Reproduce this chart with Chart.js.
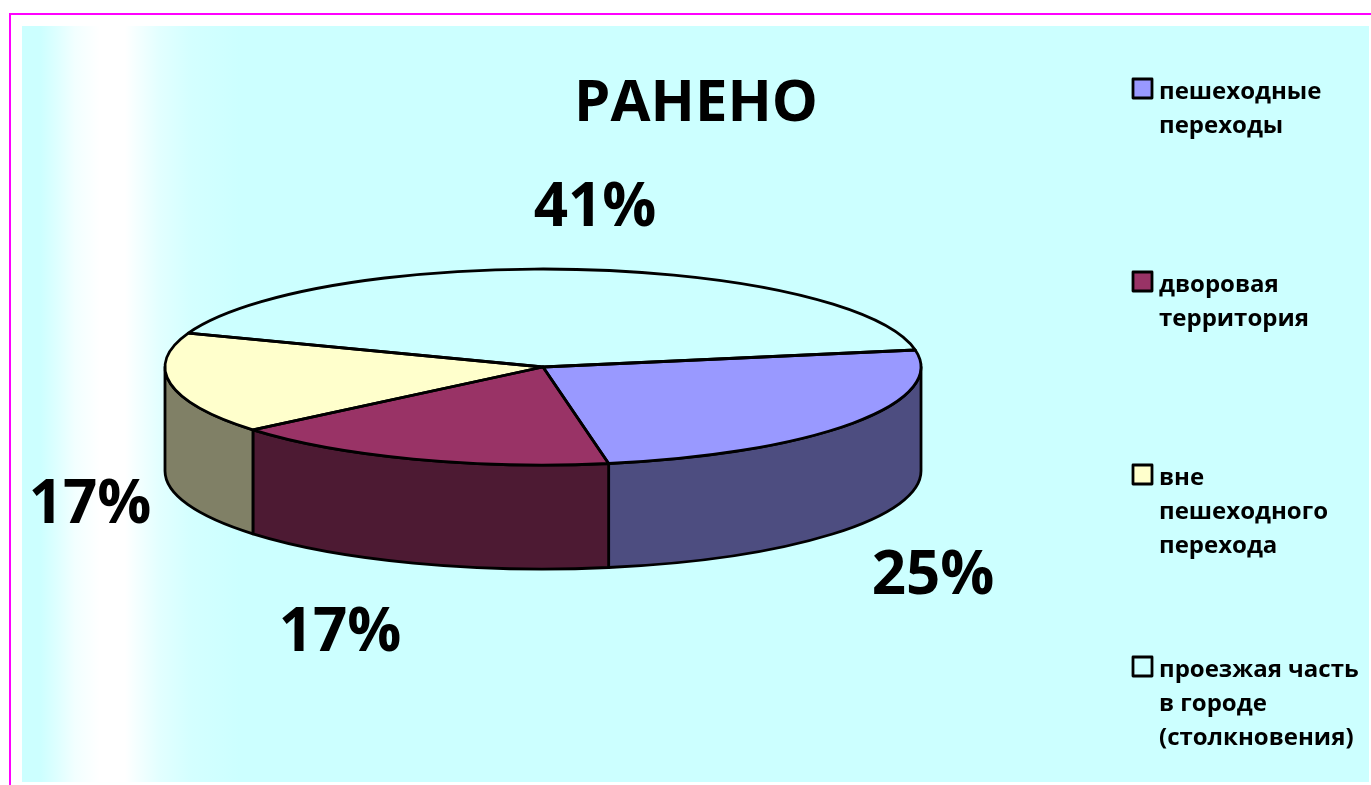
<!DOCTYPE html>
<html>
<head>
<meta charset="utf-8">
<style>html,body{margin:0;padding:0;background:#fff;overflow:hidden}canvas{display:block}</style>
<script src="https://cdn.jsdelivr.net/npm/chart.js@4/dist/chart.umd.min.js"></script>
</head>
<body>
<div style="width:1371px;height:785px"><canvas id="c" width="1371" height="785"></canvas></div>
<script>
const titleText = 'РАНЕНО';
const categories = ['пешеходные переходы', 'дворовая территория', 'вне пешеходного перехода', 'проезжая часть в городе (столкновения)'];
const legendLines = [['пешеходные','переходы'], ['дворовая','территория'], ['вне','пешеходного','перехода'], ['проезжая часть','в городе','(столкновения)']];
const values = [25, 16.7, 16.7, 41.6];
const valueLabels = ['25%', '17%', '17%', '41%'];
const topColors = ['#9999FF', '#993366', '#FFFFCC', '#CCFFFF'];
const wallColors = ['#4D4D80', '#4D1A33', '#808066', '#668080'];

const FONT = '"Open Sans", Lato, sans-serif';
const YSCALE = 98 / 378;
const DEPTH = 104;
const labelPos = [[933, 577], [340, 634], [90, 506], [595, 209]];
const legendY = [92, 285, 478, 670];

function arcs(chart){ return chart.getDatasetMeta(0).data; }
function norm(a){ const t = Math.PI*2; return ((a % t) + t) % t; }

const pie3d = {
  id: 'pie3d',
  beforeDraw(chart){
    const ctx = chart.ctx;
    ctx.save();
    ctx.fillStyle = '#fff'; ctx.fillRect(0,0,chart.width,chart.height);
    const g = ctx.createLinearGradient(22,0,1369,0);
    const p = x => (x-22)/(1369-22);
    g.addColorStop(0,'#CCFFFF');
    g.addColorStop(p(40),'#CCFFFF');
    g.addColorStop(p(58),'#DFFFFF');
    g.addColorStop(p(75),'#F2FFFF');
    g.addColorStop(p(100),'#FFFFFF');
    g.addColorStop(p(125),'#FFFFFF');
    g.addColorStop(p(135),'#F6FFFF');
    g.addColorStop(p(160),'#E2FFFF');
    g.addColorStop(p(190),'#D4FFFF');
    g.addColorStop(p(240),'#CCFFFF');
    g.addColorStop(1,'#CCFFFF');
    ctx.fillStyle = g;
    ctx.fillRect(22,26,1347,756);
    ctx.fillStyle = '#FF00FF';
    ctx.fillRect(9,13,1362,2);
    ctx.fillRect(9,13,2,772);
    ctx.restore();
  },
  beforeDatasetsDraw(chart){
    const ctx = chart.ctx;
    ctx.save();
    ctx.lineWidth = 2.8; ctx.strokeStyle = '#000'; ctx.lineJoin = 'round';
    arcs(chart).forEach((arc,i)=>{
      const {x,y,outerRadius:r,startAngle,endAngle} = arc.getProps(['x','y','outerRadius','startAngle','endAngle'],true);
      const ry = r*YSCALE;
      let a = norm(startAngle), b = a + (endAngle-startAngle);
      [[0,Math.PI],[Math.PI*2,Math.PI*3]].forEach(([lo,hi])=>{
        const s = Math.max(a,lo), e = Math.min(b,hi);
        if(e<=s) return;
        ctx.beginPath();
        ctx.ellipse(x,y,r,ry,0,s,e);
        ctx.lineTo(x+r*Math.cos(e), y+ry*Math.sin(e)+DEPTH);
        ctx.ellipse(x,y+DEPTH,r,ry,0,e,s,true);
        ctx.closePath();
        ctx.fillStyle = wallColors[i];
        ctx.fill(); ctx.stroke();
      });
    });
    ctx.restore();
  },
  beforeDatasetDraw(chart){
    const ctx = chart.ctx, a = arcs(chart)[0];
    ctx.save();
    ctx.translate(a.x,a.y); ctx.scale(1,YSCALE); ctx.translate(-a.x,-a.y);
  },
  afterDatasetDraw(chart){ chart.ctx.restore(); },
  afterDatasetsDraw(chart){
    const ctx = chart.ctx;
    ctx.save();
    ctx.lineWidth = 2.8; ctx.strokeStyle = '#000'; ctx.lineJoin = 'round';
    arcs(chart).forEach(arc=>{
      const {x,y,outerRadius:r,startAngle,endAngle} = arc.getProps(['x','y','outerRadius','startAngle','endAngle'],true);
      ctx.beginPath();
      ctx.moveTo(x,y);
      ctx.ellipse(x,y,r,r*YSCALE,0,startAngle,endAngle);
      ctx.closePath();
      ctx.stroke();
    });
    ctx.fillStyle = '#000';
    ctx.textBaseline = 'middle';
    ctx.textAlign = 'center';
    ctx.font = '700 58px '+FONT;
    ctx.fillText(titleText, 696, 104);
    ctx.font = '700 60px '+FONT;
    valueLabels.forEach((t,i)=> ctx.fillText(t, labelPos[i][0], labelPos[i][1]));
    ctx.textAlign = 'left';
    ctx.font = '700 24px '+FONT;
    legendLines.forEach((lines,i)=>{
      const y0 = legendY[i];
      ctx.fillStyle = topColors[i];
      ctx.fillRect(1133,y0-13,19,19);
      ctx.strokeStyle = '#000'; ctx.lineWidth = 2.8;
      ctx.strokeRect(1133,y0-13,19,19);
      ctx.fillStyle = '#000';
      lines.forEach((t,j)=> ctx.fillText(t,1159,y0+j*34));
    });
    ctx.restore();
  }
};

new Chart(document.getElementById('c'), {
  type: 'pie',
  data: { labels: categories, datasets: [{ data: values, backgroundColor: topColors, borderWidth: 0, radius: 378, clip: false }] },
  options: {
    responsive: false,
    animation: false,
    rotation: 80,
    layout: { padding: { left: 165, right: 450, top: 0, bottom: 51 } },
    plugins: { legend: { display: false }, title: { display: false }, tooltip: { enabled: false } },
    events: []
  },
  plugins: [pie3d]
});
</script>
</body>
</html>
